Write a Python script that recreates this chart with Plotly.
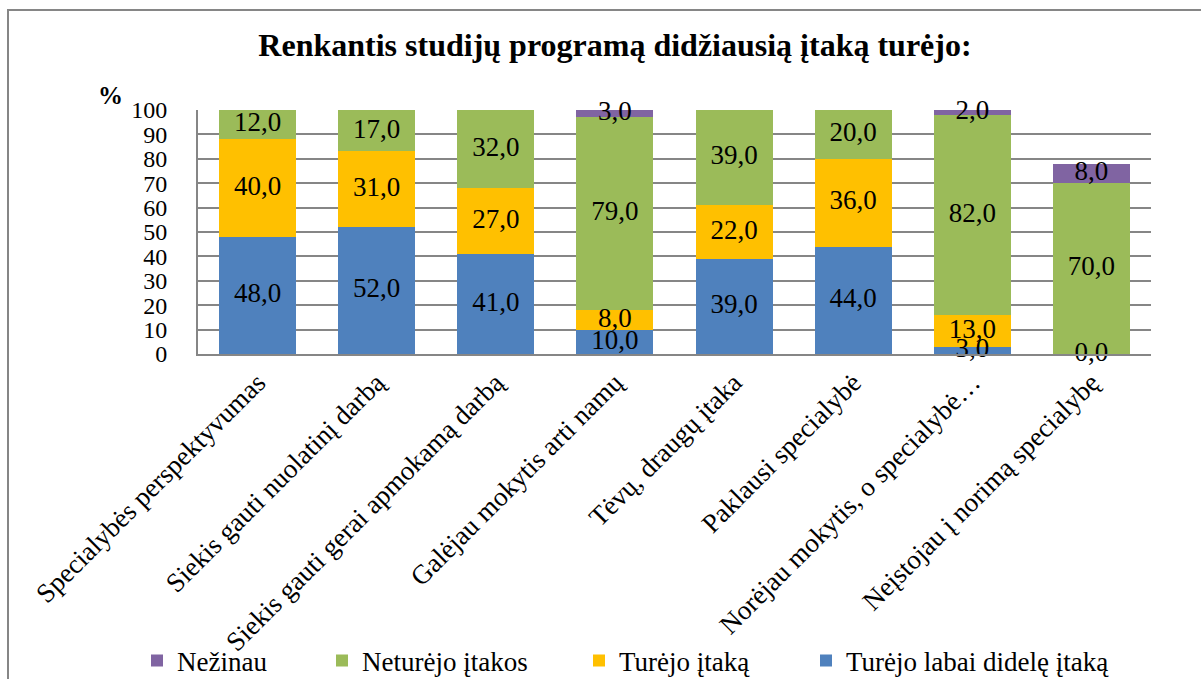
import plotly.graph_objects as go

categories = [
    "Specialybės perspektyvumas",
    "Siekis gauti nuolatinį darbą",
    "Siekis gauti gerai apmokamą darbą",
    "Galėjau mokytis arti namų",
    "Tėvų, draugų įtaka",
    "Paklausi specialybė",
    "Norėjau mokytis, o specialybė…",
    "Neįstojau į norimą specialybę",
]

labai_didele = [48, 52, 41, 10, 39, 44, 3, 0]
turejo = [40, 31, 27, 8, 22, 36, 13, None]
neturejo = [12, 17, 32, 79, 39, 20, 82, 70]
nezinau = [None, None, None, 3, None, None, 2, 8]

series = [
    ("Turėjo labai didelę įtaką", labai_didele, "#4F81BD"),
    ("Turėjo įtaką", turejo, "#FFC000"),
    ("Neturėjo įtakos", neturejo, "#9BBB59"),
    ("Nežinau", nezinau, "#8064A2"),
]

FONT = "Liberation Serif, Times New Roman, serif"

# plot-area geometry (pixels)
L, R, T, B = 198, 1151, 110, 354
W, H = 1201, 679
PW, PH = R - L, B - T

def px_x(x):
    return (x - L) / PW

def px_y(y):
    return (B - y) / PH

legend_x = {"Nežinau": 137, "Neturėjo įtakos": 322, "Turėjo įtaką": 579, "Turėjo labai didelę įtaką": 806}

fig = go.Figure()
base = [0.0] * len(categories)
for i, (name, vals, color) in enumerate(series):
    lg = "legend" if i == 0 else f"legend{i+1}"
    fig.add_trace(go.Bar(
        x=categories, y=[v if v is not None else 0 for v in vals], name=name,
        marker=dict(color=color, line=dict(width=0)),
        legend=lg,
    ))
    mids, texts = [], []
    for j, v in enumerate(vals):
        if v is None:
            mids.append(None)
            texts.append("")
        else:
            mids.append(base[j] + v / 2)
            texts.append(f"{v:.1f}".replace(".", ","))
            base[j] += v
    fig.add_trace(go.Scatter(
        x=categories, y=mids, text=texts, mode="text",
        textfont=dict(family=FONT, size=27, color="black"),
        showlegend=False, hoverinfo="skip", cliponaxis=False,
    ))

layout_legends = {}
for i, (name, vals, color) in enumerate(series):
    key = "legend" if i == 0 else f"legend{i+1}"
    layout_legends[key] = dict(
        xref="container", yref="container",
        x=legend_x[name] / W, xanchor="left",
        y=1 - 661 / H, yanchor="middle",
        orientation="h",
        font=dict(family=FONT, size=27, color="black"),
        bgcolor="rgba(0,0,0,0)",
    )

fig.update_layout(
    width=W, height=H,
    margin=dict(l=L, r=W - R, t=T, b=H - B, autoexpand=False),
    paper_bgcolor="white", plot_bgcolor="white",
    barmode="stack", bargap=0.353,
    font=dict(family=FONT, size=24, color="black"),
    title=dict(
        text="<b>Renkantis studijų programą didžiausią įtaką turėjo:</b>",
        xref="container", yref="container",
        x=615 / W, xanchor="center", y=1 - 45 / H, yanchor="middle",
        font=dict(family=FONT, size=32, color="black"),
    ),
    xaxis=dict(
        tickangle=-45, showgrid=False, showline=True, linecolor="#868686", linewidth=2,
        tickfont=dict(family=FONT, size=27, color="black"), automargin=False,
    ),
    yaxis=dict(
        range=[0, 100], dtick=10, showgrid=True, gridcolor="#868686", gridwidth=1.5,
        showline=True, linecolor="#868686", linewidth=2, zeroline=False,
        tickfont=dict(family=FONT, size=24, color="black"), automargin=False,
        ticks="", ticklabelstandoff=24,
    ),
    annotations=[dict(
        text="<b>%</b>", x=px_x(96), y=px_y(80), xref="paper", yref="paper",
        showarrow=False, font=dict(family=FONT, size=25, color="black"),
    )],
    shapes=[dict(
        type="rect", xref="paper", yref="paper",
        x0=px_x(8), x1=px_x(1260), y0=px_y(760), y1=px_y(10),
        line=dict(color="#868686", width=2), layer="below",
    )],
    **layout_legends,
)

fig.write_html(
    "out.html",
    config={"displayModeBar": False},
    post_script="document.body.style.margin='0';document.body.style.overflow='hidden';",
)
